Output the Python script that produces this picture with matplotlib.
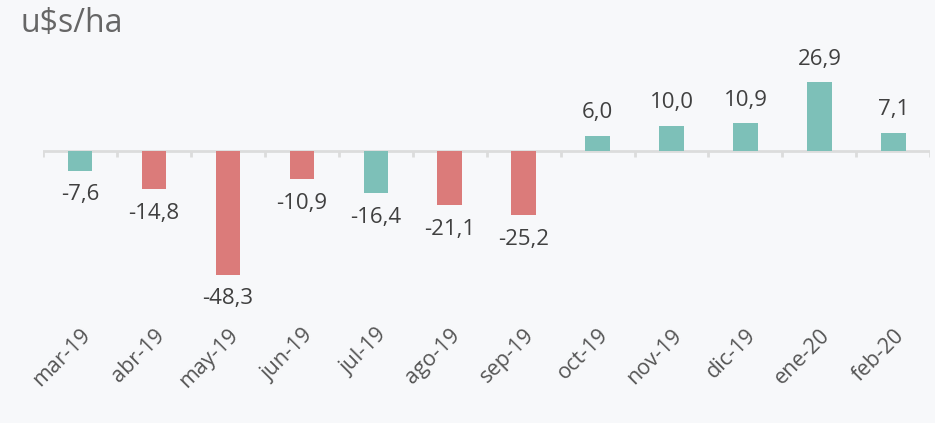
import numpy as np
import matplotlib.pyplot as plt

# data
months = ['mar-19', 'abr-19', 'may-19', 'jun-19', 'jul-19', 'ago-19',
          'sep-19', 'oct-19', 'nov-19', 'dic-19', 'ene-20', 'feb-20']
values = [-7.6, -14.8, -48.3, -10.9, -16.4, -21.1, -25.2, 6.0, 10.0, 10.9, 26.9, 7.1]
colors = ['#7dc0b8', '#db7b7a', '#db7b7a', '#db7b7a', '#7dc0b8', '#db7b7a',
          '#db7b7a', '#7dc0b8', '#7dc0b8', '#7dc0b8', '#7dc0b8', '#7dc0b8']

plt.rcParams['font.family'] = ['Open Sans', 'DejaVu Sans']

bg = '#f7f8fa'
fig = plt.figure(figsize=(9.35, 4.23), dpi=100, facecolor=bg)
ax = fig.add_axes([0.046, 0.232, 0.949, 0.592], facecolor=bg)

x = np.arange(len(months))
ax.bar(x, values, width=0.33, color=colors, zorder=3)

ax.set_xlim(-0.5, len(months) - 0.5)
ax.set_ylim(-68, 30)

# zero line with small ticks between categories
ax.axhline(0, color='#dcdcdc', lw=2, zorder=2)
ax.vlines(np.arange(len(months) + 1) - 0.5, -2.2, 0, color='#dcdcdc', lw=2, zorder=2)

for xi, v in zip(x, values):
    txt = f'{v:.1f}'.replace('.', ',')
    if v >= 0:
        ax.annotate(txt, (xi, v), xytext=(0, 9), textcoords='offset points',
                    ha='center', va='bottom', fontsize=16, color='#404040')
    else:
        ax.annotate(txt, (xi, v), xytext=(0, -10), textcoords='offset points',
                    ha='center', va='top', fontsize=16, color='#404040')

ax.set_xticks(x)
ax.set_xticklabels(months, rotation=45, ha='right', va='top', rotation_mode='anchor',
                   fontsize=15.5, color='#555555')
ax.tick_params(axis='x', length=0, pad=0)
ax.set_yticks([])
for s in ax.spines.values():
    s.set_visible(False)

fig.text(0.022, 0.945, 'u$s/ha', fontsize=23, color='#666666', va='center', ha='left')

fig.savefig('out.png', dpi=100, facecolor=bg)
